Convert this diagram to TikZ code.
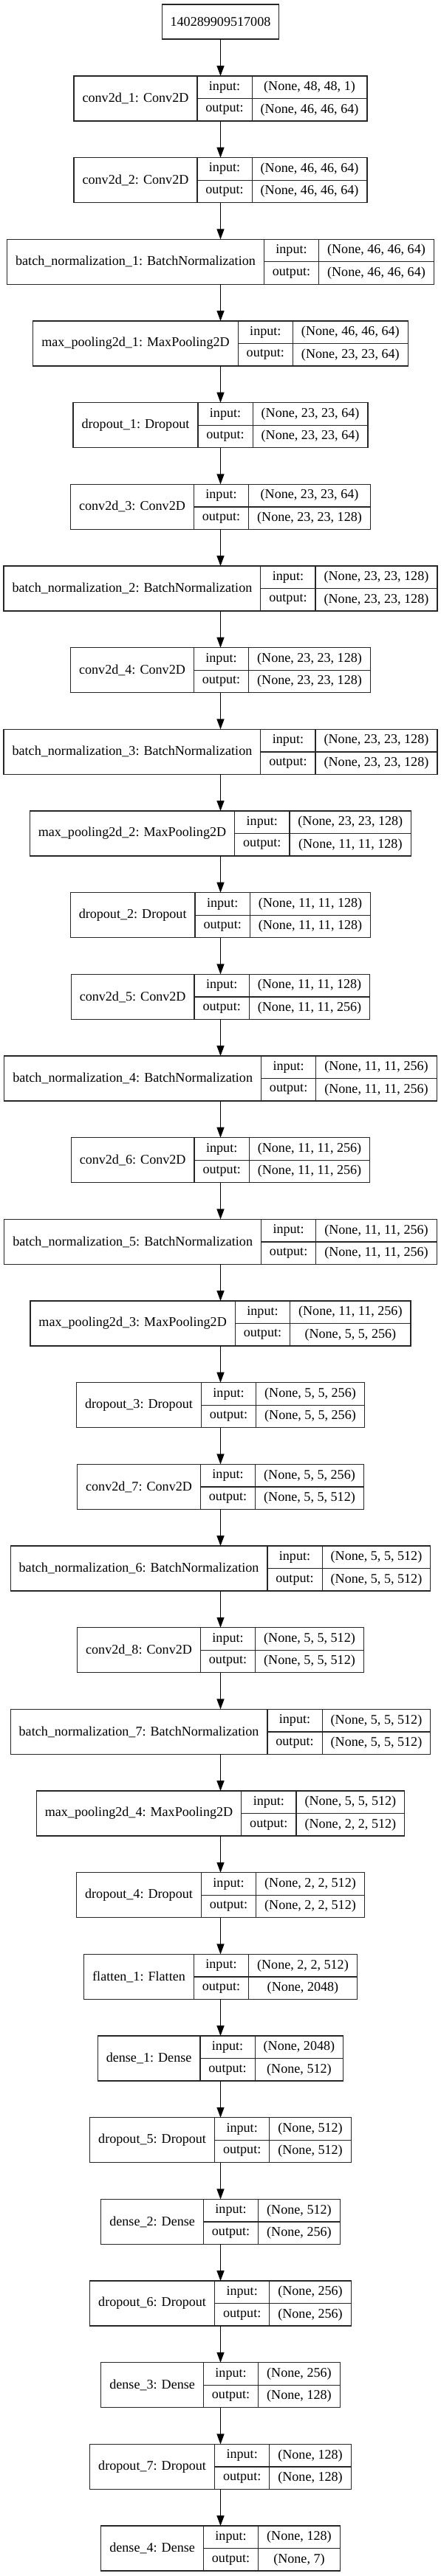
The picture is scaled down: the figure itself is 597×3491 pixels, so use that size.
\documentclass[tikz,border=0pt]{standalone}
\usepackage{fontspec}
\setmainfont{Liberation Serif}
\usetikzlibrary{arrows.meta}
\newlength\lwa \newlength\lwb \newlength\lwc \newlength\lwt \newlength\lwtot \newlength\lytop
\newcommand\lf{\fontsize{18.1}{20}\selectfont}
\tikzset{
  cell/.style={draw=black!85, line width=1.3pt, inner sep=0pt, outer sep=0pt, minimum height=30.5pt, align=center},
  layerbox/.style={draw=none, inner sep=0pt, outer sep=0pt, minimum height=61pt},
  arr/.style={draw=black, line width=1.3pt, -{Triangle[length=14pt,width=10pt]}}
}
\newcommand\layer[5]{%
 \pgfinterruptpicture
 \setbox0=\hbox{\lf #3}\global\lwa=\wd0
 \setbox0=\hbox{\lf output:}\global\lwb=\wd0
 \setbox0=\hbox{\lf #4}\global\lwc=\wd0
 \setbox0=\hbox{\lf #5}\global\lwt=\wd0
 \endpgfinterruptpicture
 \ifdim\lwt>\lwc \setlength\lwc{\lwt}\fi
 \addtolength\lwa{23pt}\addtolength\lwb{23pt}\addtolength\lwc{23pt}%
 \setlength\lwtot{\dimexpr\lwa+\lwb+\lwc\relax}%
 \setlength\lytop{\dimexpr 103pt+110.67pt*#2\relax}%
 \node[layerbox, minimum width=\lwtot, anchor=north] (#1) at (298.5pt,-\lytop) {};
 \node[cell, minimum width=\lwa, minimum height=61pt, anchor=north west] (#1-l) at (#1.north west) {#3};
 \node[cell, minimum width=\lwb, anchor=north west] (#1-i) at (#1-l.north east) {input:};
 \node[cell, minimum width=\lwb, anchor=north west] (#1-o) at (#1-i.south west) {output:};
 \node[cell, minimum width=\lwc, anchor=north west] (#1-is) at (#1-i.north east) {#4};
 \node[cell, minimum width=\lwc, anchor=north west] (#1-os) at (#1-o.north east) {#5};
}
\begin{document}
\begin{tikzpicture}[font=\lf]
\useasboundingbox (0,0) rectangle (597pt,-3491pt);
\node[cell, minimum height=47pt, inner xsep=11pt, anchor=north] (l0) at (298.5pt,-6pt) {140289909517008};
\layer{l1}{0}{conv2d\_1: Conv2D}{(None, 48, 48, 1)}{(None, 46, 46, 64)}
\layer{l2}{1}{conv2d\_2: Conv2D}{(None, 46, 46, 64)}{(None, 46, 46, 64)}
\layer{l3}{2}{batch\_normalization\_1: BatchNormalization}{(None, 46, 46, 64)}{(None, 46, 46, 64)}
\layer{l4}{3}{max\_pooling2d\_1: MaxPooling2D}{(None, 46, 46, 64)}{(None, 23, 23, 64)}
\layer{l5}{4}{dropout\_1: Dropout}{(None, 23, 23, 64)}{(None, 23, 23, 64)}
\layer{l6}{5}{conv2d\_3: Conv2D}{(None, 23, 23, 64)}{(None, 23, 23, 128)}
\layer{l7}{6}{batch\_normalization\_2: BatchNormalization}{(None, 23, 23, 128)}{(None, 23, 23, 128)}
\layer{l8}{7}{conv2d\_4: Conv2D}{(None, 23, 23, 128)}{(None, 23, 23, 128)}
\layer{l9}{8}{batch\_normalization\_3: BatchNormalization}{(None, 23, 23, 128)}{(None, 23, 23, 128)}
\layer{l10}{9}{max\_pooling2d\_2: MaxPooling2D}{(None, 23, 23, 128)}{(None, 11, 11, 128)}
\layer{l11}{10}{dropout\_2: Dropout}{(None, 11, 11, 128)}{(None, 11, 11, 128)}
\layer{l12}{11}{conv2d\_5: Conv2D}{(None, 11, 11, 128)}{(None, 11, 11, 256)}
\layer{l13}{12}{batch\_normalization\_4: BatchNormalization}{(None, 11, 11, 256)}{(None, 11, 11, 256)}
\layer{l14}{13}{conv2d\_6: Conv2D}{(None, 11, 11, 256)}{(None, 11, 11, 256)}
\layer{l15}{14}{batch\_normalization\_5: BatchNormalization}{(None, 11, 11, 256)}{(None, 11, 11, 256)}
\layer{l16}{15}{max\_pooling2d\_3: MaxPooling2D}{(None, 11, 11, 256)}{(None, 5, 5, 256)}
\layer{l17}{16}{dropout\_3: Dropout}{(None, 5, 5, 256)}{(None, 5, 5, 256)}
\layer{l18}{17}{conv2d\_7: Conv2D}{(None, 5, 5, 256)}{(None, 5, 5, 512)}
\layer{l19}{18}{batch\_normalization\_6: BatchNormalization}{(None, 5, 5, 512)}{(None, 5, 5, 512)}
\layer{l20}{19}{conv2d\_8: Conv2D}{(None, 5, 5, 512)}{(None, 5, 5, 512)}
\layer{l21}{20}{batch\_normalization\_7: BatchNormalization}{(None, 5, 5, 512)}{(None, 5, 5, 512)}
\layer{l22}{21}{max\_pooling2d\_4: MaxPooling2D}{(None, 5, 5, 512)}{(None, 2, 2, 512)}
\layer{l23}{22}{dropout\_4: Dropout}{(None, 2, 2, 512)}{(None, 2, 2, 512)}
\layer{l24}{23}{flatten\_1: Flatten}{(None, 2, 2, 512)}{(None, 2048)}
\layer{l25}{24}{dense\_1: Dense}{(None, 2048)}{(None, 512)}
\layer{l26}{25}{dropout\_5: Dropout}{(None, 512)}{(None, 512)}
\layer{l27}{26}{dense\_2: Dense}{(None, 512)}{(None, 256)}
\layer{l28}{27}{dropout\_6: Dropout}{(None, 256)}{(None, 256)}
\layer{l29}{28}{dense\_3: Dense}{(None, 256)}{(None, 128)}
\layer{l30}{29}{dropout\_7: Dropout}{(None, 128)}{(None, 128)}
\layer{l31}{30}{dense\_4: Dense}{(None, 128)}{(None, 7)}
\foreach \a [count=\b from 1] in {0,...,30} {
  \draw[arr] (l\a.south) -- (l\b.north);
}
\end{tikzpicture}
\end{document}
